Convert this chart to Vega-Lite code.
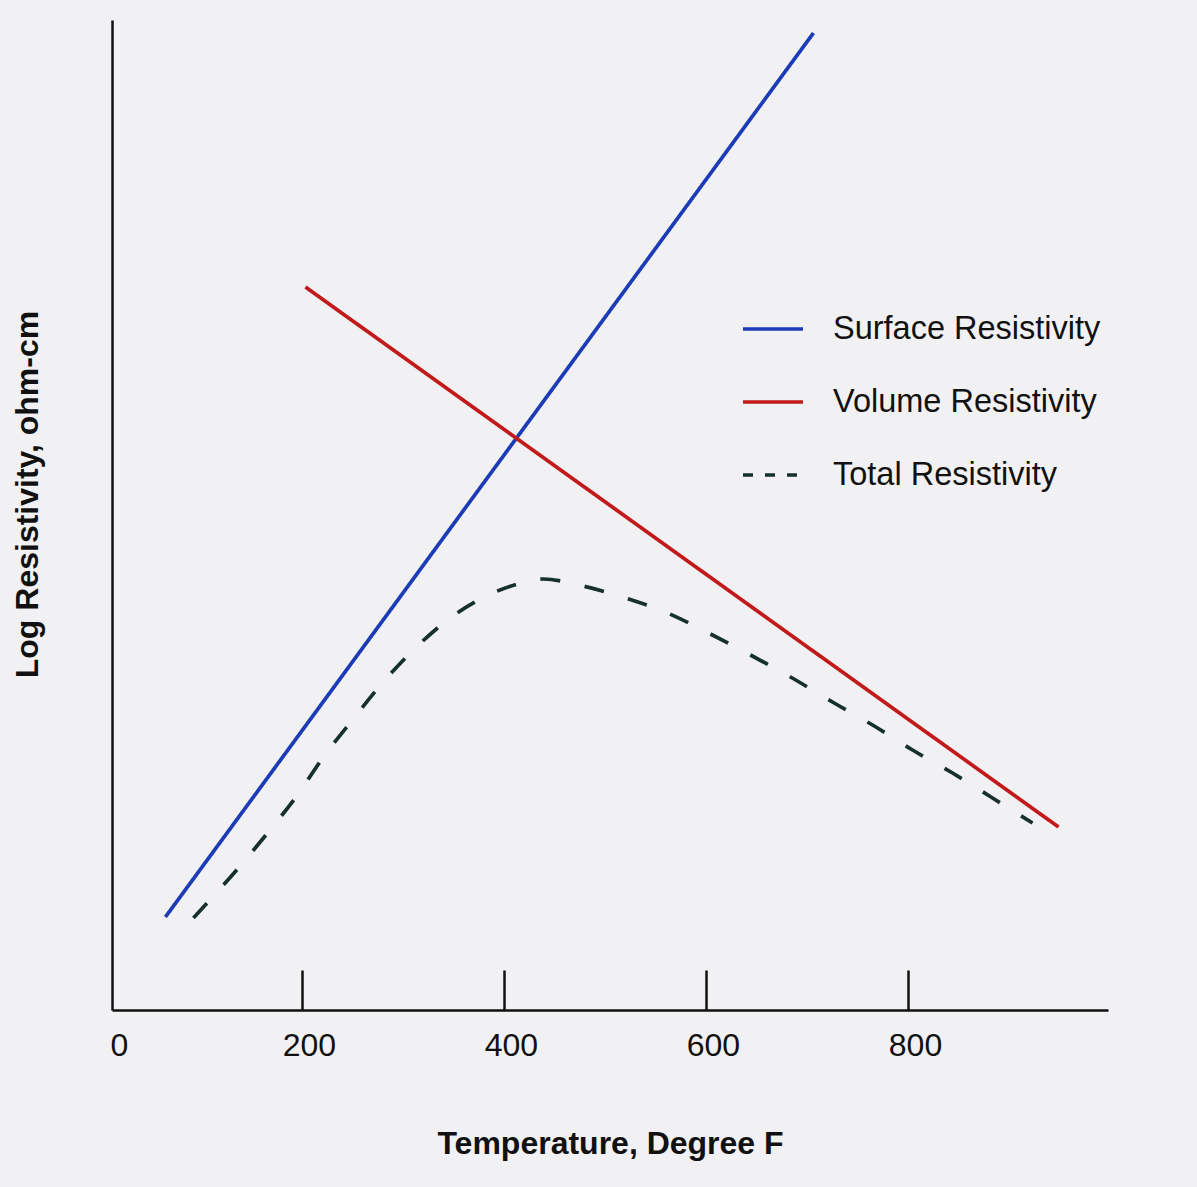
{
  "$schema": "https://vega.github.io/schema/vega-lite/v6.json",
  "width": 996,
  "height": 990,
  "autosize": {"type": "none"},
  "padding": {"left": 112, "top": 20, "right": 89, "bottom": 177},
  "background": "#f1f1f3",
  "data": {
    "values": [
      {"series": "Surface Resistivity", "temp": 64.9, "logres": 9.3},
      {"series": "Surface Resistivity", "temp": 706.4, "logres": 97.7},
      {"series": "Volume Resistivity", "temp": 203.5, "logres": 72.3},
      {"series": "Volume Resistivity", "temp": 949, "logres": 18.3},
      {"series": "Total Resistivity", "temp": 92.6, "logres": 9.2},
      {"series": "Total Resistivity", "temp": 137.1, "logres": 14.2},
      {"series": "Total Resistivity", "temp": 166.8, "logres": 17.8},
      {"series": "Total Resistivity", "temp": 195.5, "logres": 21.5},
      {"series": "Total Resistivity", "temp": 221.3, "logres": 25.3},
      {"series": "Total Resistivity", "temp": 250.0, "logres": 29.0},
      {"series": "Total Resistivity", "temp": 279.7, "logres": 32.7},
      {"series": "Total Resistivity", "temp": 310.4, "logres": 36.0},
      {"series": "Total Resistivity", "temp": 344.1, "logres": 39.0},
      {"series": "Total Resistivity", "temp": 384.7, "logres": 41.5},
      {"series": "Total Resistivity", "temp": 426.2, "logres": 42.9},
      {"series": "Total Resistivity", "temp": 439.1, "logres": 43.1},
      {"series": "Total Resistivity", "temp": 473.8, "logres": 42.5},
      {"series": "Total Resistivity", "temp": 517.3, "logres": 41.3},
      {"series": "Total Resistivity", "temp": 562.0, "logres": 39.7},
      {"series": "Total Resistivity", "temp": 602.5, "logres": 37.7},
      {"series": "Total Resistivity", "temp": 644.1, "logres": 35.5},
      {"series": "Total Resistivity", "temp": 683.7, "logres": 33.3},
      {"series": "Total Resistivity", "temp": 725.2, "logres": 30.8},
      {"series": "Total Resistivity", "temp": 764.9, "logres": 28.5},
      {"series": "Total Resistivity", "temp": 804.5, "logres": 26.0},
      {"series": "Total Resistivity", "temp": 844.1, "logres": 23.7},
      {"series": "Total Resistivity", "temp": 883.7, "logres": 21.2},
      {"series": "Total Resistivity", "temp": 923.3, "logres": 18.7}
    ]
  },
  "encoding": {
    "x": {
      "field": "temp",
      "type": "quantitative",
      "scale": {"domain": [12, 998], "nice": false, "zero": false},
      "axis": {
        "title": "Temperature, Degree F",
        "values": [12, 200, 400, 600, 800],
        "labelExpr": "datum.value < 100 ? '0' : datum.label",
        "tickOpacity": {"condition": {"test": "datum.value < 100", "value": 0}, "value": 1},
        "tickSize": -40,
        "tickWidth": 2.5,
        "tickColor": "#111111",
        "domainColor": "#111111",
        "domainWidth": 2.5,
        "grid": false,
        "labelFont": "Liberation Sans",
        "labelFontSize": 32,
        "labelColor": "#111111",
        "labelPadding": 60,
        "labelOffset": 7,
        "labelFlush": false,
        "labelOverlap": false,
        "titleFont": "Liberation Sans",
        "titleFontSize": 32,
        "titleFontWeight": "bold",
        "titleColor": "#111111",
        "titlePadding": 67
      }
    },
    "y": {
      "field": "logres",
      "type": "quantitative",
      "scale": {"domain": [0, 99], "nice": false, "zero": false},
      "axis": {
        "title": "Log Resistivity, ohm-cm",
        "ticks": false,
        "labels": false,
        "grid": false,
        "domainColor": "#111111",
        "domainWidth": 2.5,
        "titleFont": "Liberation Sans",
        "titleFontSize": 32,
        "titleFontWeight": "bold",
        "titleColor": "#111111",
        "titlePadding": 68,
        "titleY": 474
      }
    },
    "color": {
      "field": "series",
      "type": "nominal",
      "scale": {
        "domain": ["Surface Resistivity", "Volume Resistivity", "Total Resistivity"],
        "range": ["#1c3bb6", "#c21a1a", "#16302a"]
      },
      "legend": {
        "orient": "none",
        "legendX": 629,
        "legendY": 277,
        "title": null,
        "padding": 0,
        "symbolType": "stroke",
        "symbolSize": 3600,
        "symbolStrokeWidth": 3.5,
        "labelFont": "Liberation Sans",
        "labelFontSize": 32.5,
        "labelColor": "#111111",
        "labelOffset": 28,
        "rowPadding": 24,
        "labelLimit": 500
      }
    }
  },
  "layer": [
    {
      "mark": {"type": "line", "strokeWidth": 3.7, "interpolate": "monotone", "clip": false},
      "encoding": {
        "strokeDash": {
          "condition": {"test": "datum.series === 'Total Resistivity'", "value": [20, 25]},
          "value": [1, 0]
        }
      }
    },
    {
      "transform": [{"filter": "datum.temp < 0"}],
      "mark": {"type": "line", "strokeWidth": 3.7, "clip": false},
      "encoding": {
        "strokeDash": {
          "field": "series",
          "type": "nominal",
          "scale": {
            "domain": ["Surface Resistivity", "Volume Resistivity", "Total Resistivity"],
            "range": [[1, 0], [1, 0], [10, 12]]
          },
          "legend": {
            "orient": "none",
            "legendX": 629,
            "legendY": 277,
            "title": null,
            "padding": 0,
            "symbolType": "stroke",
            "symbolSize": 3600,
            "symbolStrokeWidth": 3.5,
            "labelFont": "Liberation Sans",
            "labelFontSize": 32.5,
            "labelColor": "#111111",
            "labelOffset": 28,
            "rowPadding": 24,
            "labelLimit": 500
          }
        }
      }
    }
  ],
  "config": {
    "view": {"stroke": null}
  }
}
